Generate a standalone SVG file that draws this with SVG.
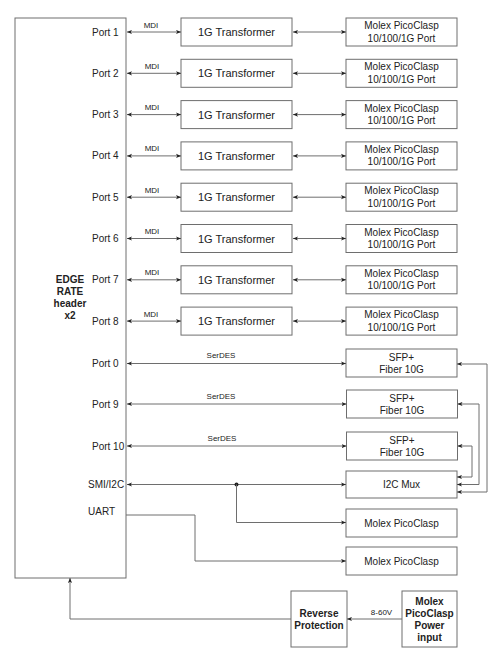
<svg xmlns="http://www.w3.org/2000/svg" width="501" height="659" viewBox="0 0 501 659">
<style>
.box{fill:#fff;stroke:#6e6e6e;stroke-width:1}
.ln{fill:none;stroke:#6e6e6e;stroke-width:1}
.bi{marker-start:url(#a);marker-end:url(#a)}
.one{marker-end:url(#a)}
.t{font-family:"Liberation Sans",Arial,sans-serif;font-size:10px;fill:#222}
.c{text-anchor:middle}
.s{font-size:8px}
.tr{font-size:11px}
.b{font-weight:bold}
</style>
<defs>
<marker id="a" viewBox="0 0 6 6" refX="6" refY="3" markerWidth="5" markerHeight="5" markerUnits="userSpaceOnUse" orient="auto-start-reverse">
<path d="M0,0.5 L6,3 L0,5.5 L1.5,3 z" fill="#222"/>
</marker>
</defs>
<rect width="501" height="659" fill="#fff"/>

<g id="header">
<rect class="box" x="15" y="18" width="111" height="560"/>
<text class="t c b" x="70" y="283">EDGE</text>
<text class="t c b" x="70" y="295">RATE</text>
<text class="t c b" x="70" y="307">header</text>
<text class="t c b" x="70" y="319">x2</text>
<text class="t" x="92" y="35.5">Port 1</text>
<text class="t" x="92" y="76.8">Port 2</text>
<text class="t" x="92" y="118.1">Port 3</text>
<text class="t" x="92" y="159.4">Port 4</text>
<text class="t" x="92" y="200.7">Port 5</text>
<text class="t" x="92" y="242">Port 6</text>
<text class="t" x="92" y="283.3">Port 7</text>
<text class="t" x="92" y="324.6">Port 8</text>
<text class="t" x="92" y="366.5">Port 0</text>
<text class="t" x="92" y="407.5">Port 9</text>
<text class="t" x="92" y="449.5">Port 10</text>
<text class="t" x="88" y="487.5">SMI/I2C</text>
<text class="t" x="88" y="515">UART</text>
</g>

<g id="transformers">
<g id="tr1"><rect class="box" x="181" y="18" width="111" height="28"/><text class="t tr c" x="236.5" y="36">1G Transformer</text></g>
<g id="tr2"><rect class="box" x="181" y="59.3" width="111" height="28"/><text class="t tr c" x="236.5" y="77.3">1G Transformer</text></g>
<g id="tr3"><rect class="box" x="181" y="100.6" width="111" height="28"/><text class="t tr c" x="236.5" y="118.6">1G Transformer</text></g>
<g id="tr4"><rect class="box" x="181" y="141.9" width="111" height="28"/><text class="t tr c" x="236.5" y="159.9">1G Transformer</text></g>
<g id="tr5"><rect class="box" x="181" y="183.2" width="111" height="28"/><text class="t tr c" x="236.5" y="201.2">1G Transformer</text></g>
<g id="tr6"><rect class="box" x="181" y="224.5" width="111" height="28"/><text class="t tr c" x="236.5" y="242.5">1G Transformer</text></g>
<g id="tr7"><rect class="box" x="181" y="265.8" width="111" height="28"/><text class="t tr c" x="236.5" y="283.8">1G Transformer</text></g>
<g id="tr8"><rect class="box" x="181" y="307.1" width="111" height="28"/><text class="t tr c" x="236.5" y="325.1">1G Transformer</text></g>
</g>

<g id="molexports">
<g id="mp1"><rect class="box" x="346" y="18" width="111" height="28"/><text class="t c" x="401.5" y="29">Molex PicoClasp</text><text class="t c" x="401.5" y="41.5">10/100/1G Port</text></g>
<g id="mp2"><rect class="box" x="346" y="59.3" width="111" height="28"/><text class="t c" x="401.5" y="70.3">Molex PicoClasp</text><text class="t c" x="401.5" y="82.8">10/100/1G Port</text></g>
<g id="mp3"><rect class="box" x="346" y="100.6" width="111" height="28"/><text class="t c" x="401.5" y="111.6">Molex PicoClasp</text><text class="t c" x="401.5" y="124.1">10/100/1G Port</text></g>
<g id="mp4"><rect class="box" x="346" y="141.9" width="111" height="28"/><text class="t c" x="401.5" y="152.9">Molex PicoClasp</text><text class="t c" x="401.5" y="165.4">10/100/1G Port</text></g>
<g id="mp5"><rect class="box" x="346" y="183.2" width="111" height="28"/><text class="t c" x="401.5" y="194.2">Molex PicoClasp</text><text class="t c" x="401.5" y="206.7">10/100/1G Port</text></g>
<g id="mp6"><rect class="box" x="346" y="224.5" width="111" height="28"/><text class="t c" x="401.5" y="235.5">Molex PicoClasp</text><text class="t c" x="401.5" y="248">10/100/1G Port</text></g>
<g id="mp7"><rect class="box" x="346" y="265.8" width="111" height="28"/><text class="t c" x="401.5" y="276.8">Molex PicoClasp</text><text class="t c" x="401.5" y="289.3">10/100/1G Port</text></g>
<g id="mp8"><rect class="box" x="346" y="307.1" width="111" height="28"/><text class="t c" x="401.5" y="318.1">Molex PicoClasp</text><text class="t c" x="401.5" y="330.6">10/100/1G Port</text></g>
</g>

<g id="sfp1"><rect class="box" x="346" y="349" width="111" height="28"/><text class="t c" x="401.5" y="360.5">SFP+</text><text class="t c" x="401.5" y="372.5">Fiber 10G</text></g>
<g id="sfp2"><rect class="box" x="346.5" y="390" width="111" height="28"/><text class="t c" x="402" y="401.5">SFP+</text><text class="t c" x="402" y="413.5">Fiber 10G</text></g>
<g id="sfp3"><rect class="box" x="346.5" y="432" width="111" height="28"/><text class="t c" x="402" y="443.5">SFP+</text><text class="t c" x="402" y="455.5">Fiber 10G</text></g>
<g id="mux"><rect class="box" x="346" y="471" width="111" height="27"/><text class="t c" x="401.5" y="488">I2C Mux</text></g>
<g id="molex1"><rect class="box" x="346" y="509" width="111" height="28"/><text class="t c" x="401.5" y="526.5">Molex PicoClasp</text></g>
<g id="molex2"><rect class="box" x="346" y="547" width="111" height="28"/><text class="t c" x="401.5" y="564.5">Molex PicoClasp</text></g>
<g id="revprot"><rect class="box" x="291" y="591" width="56" height="56"/><text class="t c b" x="319" y="617">Reverse</text><text class="t c b" x="319" y="629">Protection</text></g>
<g id="power"><rect class="box" x="402" y="591" width="55" height="56"/><text class="t c b" x="429.5" y="604.5">Molex</text><text class="t c b" x="429.5" y="616.5">PicoClasp</text><text class="t c b" x="429.5" y="628.5">Power</text><text class="t c b" x="429.5" y="640.5">input</text></g>

<g id="connectors">
<g class="ln bi">
<path d="M127,32 H181"/><path d="M127,73.3 H181"/><path d="M127,114.6 H181"/><path d="M127,155.9 H181"/><path d="M127,197.2 H181"/><path d="M127,238.5 H181"/><path d="M127,279.8 H181"/><path d="M127,321.1 H181"/>
<path d="M293,32 H346"/><path d="M293,73.3 H346"/><path d="M293,114.6 H346"/><path d="M293,155.9 H346"/><path d="M293,197.2 H346"/><path d="M293,238.5 H346"/><path d="M293,279.8 H346"/><path d="M293,321.1 H346"/>
<path d="M127,363.5 H346"/><path d="M127,404 H346.5"/><path d="M127,446 H346.5"/><path d="M127,484.5 H346"/>
<path d="M457,364 H487 V492 H457"/>
<path d="M457.5,404 H479 V484.5 H457"/>
<path d="M457.5,446 H472 V477 H457"/>
</g>
<g class="t s c">
<text x="151" y="27.5">MDI</text><text x="152" y="68.8">MDI</text><text x="152" y="110.1">MDI</text><text x="152" y="151.4">MDI</text><text x="152" y="192.7">MDI</text><text x="152" y="234">MDI</text><text x="152" y="275.3">MDI</text><text x="151" y="316.6">MDI</text>
<text x="221" y="358">SerDES</text><text x="221" y="399">SerDES</text><text x="222" y="441">SerDES</text>
<text x="381.5" y="615">8-60V</text>
</g>
<circle cx="236.5" cy="484.5" r="2" fill="#222"/>
<g class="ln one">
<path d="M236.5,484.5 V522.5 H346"/>
<path d="M126,515 H195 V561 H346"/>
<path d="M402,619 H347"/>
<path d="M291,619 H70 V578"/>
</g>
</g>
</svg>
